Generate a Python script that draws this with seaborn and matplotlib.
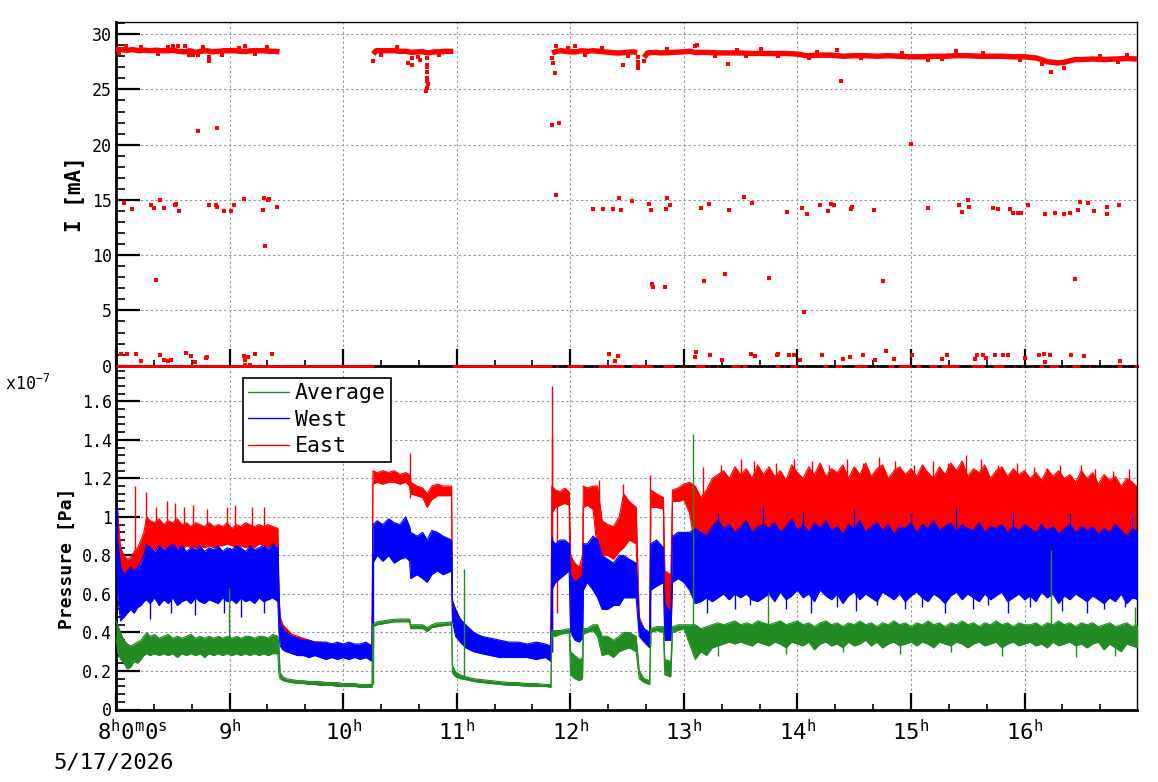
import numpy as np
import pandas as pd
import matplotlib
matplotlib.use("Agg")
import matplotlib.pyplot as plt
import matplotlib.ticker as mticker
from matplotlib.lines import Line2D
import seaborn as sns

# ---------------- data: beam current (top panel) ----------------
band_t = [8.00, 8.05, 8.10, 8.15, 8.20, 8.25, 8.30, 8.35, 8.40, 8.45, 8.50, 8.55, 8.60, 8.65, 8.70,
          8.75, 8.80, 8.85, 8.90, 8.95, 9.00, 9.05, 9.10, 9.15, 9.20, 9.25, 9.30, 9.35, 9.40, 9.44,
          10.265, 10.29, 10.35, 10.40, 10.45, 10.50, 10.55, 10.60, 10.65, 10.70, 10.75, 10.80, 10.85, 10.90, 10.97,
          11.84, 11.88, 11.92, 11.96, 12.00, 12.05, 12.10, 12.15, 12.20, 12.25, 12.30, 12.35, 12.40, 12.45, 12.50,
          12.55, 12.59,
          12.65, 12.68, 12.75, 12.80, 12.90, 13.00, 13.05, 13.10, 13.20, 13.30, 13.40, 13.50, 13.60, 13.70, 13.80,
          13.90, 14.00, 14.05, 14.10, 14.20, 14.30, 14.40, 14.50, 14.60, 14.70, 14.80, 14.90, 15.00, 15.10, 15.20,
          15.30, 15.40, 15.50, 15.60, 15.70, 15.80, 15.90, 16.00, 16.05, 16.10, 16.15, 16.20, 16.25, 16.30, 16.35,
          16.40, 16.45, 16.50, 16.60, 16.70, 16.80, 16.90, 16.99]
band_I = [28.6, 28.6, 28.55, 28.6, 28.5, 28.55, 28.5, 28.55, 28.5, 28.5, 28.55, 28.45, 28.4, 28.5, 28.35,
          28.45, 28.5, 28.4, 28.45, 28.5, 28.5, 28.5, 28.45, 28.45, 28.5, 28.5, 28.5, 28.45, 28.45, 28.4,
          28.2, 28.5, 28.5, 28.5, 28.5, 28.45, 28.45, 28.35, 28.4, 28.4, 28.3, 28.4, 28.4, 28.45, 28.45,
          28.3, 28.45, 28.5, 28.45, 28.4, 28.4, 28.5, 28.45, 28.5, 28.45, 28.4, 28.35, 28.3, 28.3, 28.35,
          28.4, 28.35,
          27.9, 28.3, 28.35, 28.3, 28.35, 28.4, 28.45, 28.35, 28.35, 28.3, 28.3, 28.3, 28.25, 28.25, 28.25,
          28.25, 28.2, 28.1, 28.05, 28.1, 28.1, 28.0, 28.05, 28.05, 28.0, 28.05, 28.0, 27.95, 27.95, 28.0,
          28.0, 28.05, 28.05, 28.0, 28.0, 28.0, 27.95, 27.95, 27.9, 27.85, 27.7, 27.5, 27.45, 27.4, 27.45,
          27.6, 27.7, 27.7, 27.75, 27.7, 27.75, 27.8, 27.75]
band_seg = [1] * 30 + [2] * 15 + [3] * 17 + [4] * 53

near_t = [8.09, 8.50, 8.55, 8.61, 8.82, 8.82, 8.68, 8.72, 9.14, 10.265, 10.573, 10.61, 10.61, 10.737,
          10.737, 10.737, 10.737, 10.735, 10.74, 10.745, 10.73, 10.735, 10.66, 10.68, 11.84, 11.845, 11.865,
          11.87, 12.04, 12.46, 12.60, 12.60, 12.60, 12.60, 12.65, 13.10, 13.12, 13.39, 13.68, 14.38, 14.35,
          15.40, 16.23, 16.35, 16.15, 16.90, 14.10, 15.15, 13.55,
          8.03, 8.22, 8.37, 8.46, 8.64, 8.77, 8.93, 9.08, 9.22, 9.33, 10.33, 10.47, 10.84, 11.98, 12.13,
          12.28, 12.51, 12.85, 13.27, 13.47, 13.83, 14.17, 14.56, 14.92, 15.27, 15.63, 15.96, 16.66, 16.82]
near_I = [28.95, 28.9, 28.95, 28.95, 27.9, 27.6, 28.1, 28.1, 28.9, 27.6, 27.4, 27.2, 27.8, 27.8,
          27.2, 27.0, 26.6, 26.0, 25.8, 25.5, 24.9, 25.15, 27.9, 27.7, 27.8, 27.4, 26.5,
          28.9, 28.9, 27.2, 27.9, 27.5, 27.2, 26.9, 27.6, 28.95, 29.05, 27.3, 28.7, 25.8, 28.55,
          28.5, 26.6, 26.9, 27.3, 28.1, 27.8, 27.7, 28.0,
          28.25, 28.85, 28.2, 28.8, 28.15, 28.8, 28.1, 28.75, 28.2, 28.8, 28.15, 28.8, 28.1, 28.75, 28.1,
          28.75, 28.05, 28.7, 28.05, 28.6, 28.0, 28.4, 27.8, 28.3, 27.75, 28.3, 27.7, 28.0, 27.5]

far_t = [8.073, 8.144, 8.31, 8.337, 8.39, 8.425, 8.52, 8.53, 8.557, 8.725, 8.89, 8.818, 8.877, 8.886,
         8.954, 9.015, 9.04, 9.13, 9.29, 9.305, 9.315, 9.34, 9.35, 9.42, 8.355,
         8.047, 8.10, 8.18, 8.223, 8.39, 8.425, 8.454, 8.487, 8.62, 8.664, 8.70, 8.795, 8.80, 9.13, 9.135,
         9.16, 9.14, 9.18, 9.22, 9.375,
         11.84, 11.90, 11.876, 12.20, 12.29, 12.38, 12.43, 12.45, 12.54, 12.69, 12.71, 12.72, 12.73, 12.83,
         12.85, 12.88, 12.84, 13.15, 13.18, 13.22, 13.36, 13.40, 13.53, 13.60, 13.75, 13.91, 14.04, 14.06,
         14.08, 14.20, 14.27, 14.30, 14.32, 14.47, 14.48, 14.67, 14.75, 15.00, 15.15, 15.42, 15.45, 15.50,
         15.51, 15.72, 15.77, 15.87, 15.90, 15.94, 15.97, 16.03, 16.18, 16.27, 16.35, 16.40, 16.44, 16.47,
         16.49, 16.56, 16.61, 16.73, 16.73, 16.83,
         12.34, 12.39, 12.42, 13.10, 13.11, 13.23, 13.34, 13.59, 13.63, 13.82, 13.83, 13.93, 13.97, 14.02,
         14.22, 14.40, 14.46, 14.58, 14.68, 14.78, 14.85, 15.01, 15.27, 15.32, 15.56, 15.58, 15.63, 15.66,
         15.74, 15.81, 15.85, 16.00, 16.13, 16.17, 16.22, 16.18, 16.41, 16.52, 16.84]
far_I = [14.76, 14.2, 14.58, 14.3, 15.03, 14.3, 14.5, 14.67, 14.04, 21.26, 21.53, 14.58, 14.58, 14.4,
         14.04, 14.04, 14.58, 15.12, 14.13, 15.2, 10.87, 15.03, 15.12, 14.4, 7.71,
         1.03, 1.03, 1.03, 0.4, 0.94, 0.49, 0.4, 0.49, 1.12, 0.85, 0.31, 0.67, 0.76, 0.85, 0.49,
         0.76, 0.1, 0.1, 1.03, 1.03,
         21.8, 22.0, 15.48, 14.2, 14.2, 14.2, 15.2, 14.1, 14.9, 14.67, 14.1, 7.35, 7.08, 7.08,
         15.2, 14.58, 14.2, 14.3, 7.7, 14.67, 8.34, 14.13, 15.3, 14.76, 7.98, 13.95, 14.3, 4.82,
         13.77, 14.5, 14.04, 14.67, 14.58, 14.2, 14.4, 14.1, 7.62, 20.1, 14.3, 14.5, 13.95, 15.03,
         14.4, 14.3, 14.2, 14.2, 13.86, 13.86, 13.86, 14.5, 13.77, 13.86, 13.77, 13.86, 7.8, 14.13,
         14.85, 14.76, 14.04, 14.4, 13.77, 14.58,
         1.1, 0.4, 0.85, 0.75, 1.2, 1.0, 0.48, 1.1, 0.85, 1.0, 1.1, 0.93, 1.0, 0.48,
         1.0, 0.57, 0.75, 1.0, 0.48, 1.3, 0.57, 1.0, 0.57, 1.0, 0.57, 1.0, 0.93, 0.66,
         1.0, 0.93, 0.93, 0.66, 1.0, 1.1, 1.0, 0.3, 1.0, 0.85, 0.4]

zero_start = [8.00, 10.96, 11.875, 11.975, 12.205, 12.24, 12.535, 12.82, 12.995, 13.095, 13.215, 13.295,
              13.415, 13.515, 13.805, 13.885, 13.935, 14.055, 14.225, 14.335, 14.495, 14.685, 14.795,
              14.885, 15.045, 15.155, 15.265, 15.525, 15.725, 15.905, 15.975, 16.065, 16.125, 16.215,
              16.345, 16.415, 16.565, 16.815, 16.965]
zero_end = [10.275, 11.84, 11.89, 12.11, 12.215, 12.47, 12.73, 12.91, 13.005, 13.19, 13.225, 13.305,
            13.49, 13.56, 13.85, 13.895, 14.0, 14.065, 14.27, 14.39, 14.61, 14.695, 14.85,
            15.0, 15.09, 15.23, 15.42, 15.64, 15.82, 15.915, 15.985, 16.075, 16.17, 16.29,
            16.355, 16.49, 16.575, 16.86, 16.99]

# ---------------- data: pressure (bottom panel, units of 1e-7 Pa) ----------------
t_p = [8.000, 8.015, 8.040, 8.070, 8.100, 8.130, 8.160, 8.190, 8.220, 8.245,
       8.270, 8.300, 8.340, 8.380, 8.420, 8.460, 8.500, 8.540, 8.580, 8.620,
       8.660, 8.700, 8.740, 8.780, 8.820, 8.860, 8.900, 8.940, 8.980, 9.020,
       9.060, 9.100, 9.140, 9.180, 9.220, 9.260, 9.300, 9.340, 9.380, 9.425,
       9.435, 9.445, 9.470, 9.500, 9.550, 9.600, 9.650, 9.700, 9.750, 9.800,
       9.850, 9.900, 9.950, 10.000, 10.050, 10.100, 10.150, 10.200, 10.255,
       10.262, 10.300, 10.350, 10.400, 10.450, 10.500, 10.550, 10.585,
       10.595, 10.650, 10.700, 10.740, 10.780, 10.830, 10.880, 10.955,
       10.962, 10.990, 11.030, 11.080, 11.150, 11.220, 11.300, 11.380, 11.460, 11.540, 11.620, 11.700, 11.780, 11.830,
       11.837, 11.870, 11.910, 11.950, 11.990, 12.003, 12.040, 12.080, 12.108, 12.115,
       12.150, 12.200, 12.240, 12.280, 12.330, 12.380, 12.430, 12.470, 12.520, 12.580,
       12.607, 12.650, 12.700, 12.708, 12.760, 12.820, 12.832, 12.885, 12.900, 12.950,
       13.000,
       13.05, 13.10, 13.15, 13.20, 13.25, 13.30, 13.35, 13.40, 13.45, 13.50,
       13.55, 13.60, 13.65, 13.70, 13.75, 13.80, 13.85, 13.90, 13.95, 14.00,
       14.05, 14.10, 14.15, 14.20, 14.25, 14.30, 14.35, 14.40, 14.45, 14.50,
       14.55, 14.60, 14.65, 14.70, 14.75, 14.80, 14.85, 14.90, 14.95, 15.00,
       15.05, 15.10, 15.15, 15.20, 15.25, 15.30, 15.35, 15.40, 15.45, 15.50,
       15.55, 15.60, 15.65, 15.70, 15.75, 15.80, 15.85, 15.90, 15.95, 16.00,
       16.05, 16.10, 16.15, 16.20, 16.25, 16.30, 16.35, 16.40, 16.45, 16.50,
       16.55, 16.60, 16.65, 16.70, 16.75, 16.80, 16.85, 16.90, 16.95, 17.00]

avg_lo = [.38, .30, .26, .24, .21, .22, .25, .24, .26, .28,
          .29, .28, .29, .28, .29, .28, .29, .27, .29, .28,
          .29, .28, .29, .27, .29, .28, .29, .28, .29, .28,
          .29, .28, .29, .28, .29, .28, .29, .28, .29, .29,
          .18, .16, .15, .145, .14, .135, .135, .13, .13, .125,
          .125, .125, .12, .12, .12, .12, .115, .115, .115,
          .43, .44, .445, .45, .455, .455, .456, .455,
          .42, .42, .42, .405, .425, .43, .435, .44,
          .19, .17, .16, .155, .145, .14, .135, .13, .125, .125, .12, .12, .12, .115,
          .38, .38, .39, .395, .40, .18, .16, .15, .16, .39,
          .40, .41, .38, .28, .29, .27, .30, .31, .32, .30,
          .16, .14, .13, .40, .41, .40, .18, .17, .40, .41,
          .42,
          .34, .26, .30, .28, .32, .33, .34, .35, .34, .35,
          .34, .33, .35, .34, .33, .35, .34, .32, .35, .34,
          .33, .35, .31, .34, .35, .33, .34, .32, .35, .33,
          .34, .36, .33, .35, .32, .34, .35, .33, .34, .35,
          .33, .35, .34, .32, .35, .34, .33, .35, .34, .32,
          .34, .35, .33, .34, .35, .32, .34, .35, .33, .34,
          .35, .33, .34, .32, .35, .33, .34, .35, .33, .34,
          .32, .34, .35, .31, .34, .32, .30, .34, .33, .32]
avg_hi = [.46, .44, .40, .36, .34, .33, .34, .35, .36, .38,
          .40, .38, .39, .37, .38, .39, .37, .38, .37, .38,
          .39, .37, .38, .37, .38, .37, .38, .37, .38, .37,
          .38, .37, .38, .38, .37, .38, .38, .37, .39, .38,
          .33, .19, .17, .16, .155, .15, .15, .145, .145, .145,
          .14, .14, .14, .135, .135, .135, .13, .13, .13,
          .445, .455, .46, .465, .468, .47, .47, .47,
          .44, .44, .44, .425, .44, .45, .45, .455,
          .23, .195, .18, .17, .16, .155, .15, .145, .14, .14, .135, .135, .13, .13,
          .41, .41, .41, .415, .42, .30, .28, .26, .27, .42,
          .42, .44, .44, .38, .38, .36, .38, .40, .40, .38,
          .20, .16, .15, .42, .43, .43, .26, .25, .43, .44,
          .44,
          .44, .44, .42, .43, .44, .45, .44, .45, .46, .44,
          .45, .44, .46, .45, .44, .45, .46, .44, .45, .46,
          .44, .45, .43, .45, .46, .44, .45, .43, .45, .44,
          .46, .44, .45, .43, .45, .44, .46, .44, .45, .43,
          .45, .44, .46, .44, .45, .43, .45, .44, .46, .44,
          .45, .43, .45, .44, .46, .44, .45, .43, .45, .44,
          .44, .45, .43, .45, .44, .46, .44, .45, .43, .45,
          .44, .45, .43, .44, .45, .43, .44, .45, .43, .44]

west_lo = [.80, .58, .46, .48, .50, .52, .50, .53, .54, .56,
           .57, .55, .58, .54, .57, .55, .58, .54, .56, .57,
           .55, .58, .56, .55, .57, .56, .55, .58, .56, .57,
           .55, .58, .56, .57, .55, .58, .56, .57, .58, .56,
           .40, .33, .31, .30, .29, .28, .28, .27, .28, .27,
           .26, .27, .26, .27, .26, .27, .26, .27, .25,
           .76, .80, .77, .80, .76, .78, .79, .77,
           .68, .70, .68, .66, .70, .72, .70, .72,
           .46, .38, .35, .32, .30, .29, .28, .27, .27, .27, .27, .26, .27, .25,
           .62, .66, .68, .70, .72, .40, .36, .35, .37, .62,
           .66, .62, .58, .52, .52, .54, .54, .58, .58, .58,
           .38, .35, .32, .62, .64, .66, .36, .36, .66, .68,
           .66,
           .62, .55, .56, .58, .56, .58, .60, .57, .60, .58,
           .60, .57, .56, .58, .60, .56, .61, .57, .59, .62,
           .58, .60, .56, .62, .59, .57, .60, .55, .59, .61,
           .57, .60, .58, .56, .61, .59, .57, .60, .56, .59,
           .61, .58, .56, .60, .58, .55, .59, .61, .57, .60,
           .58, .56, .60, .57, .59, .61, .56, .58, .60, .57,
           .59, .56, .61, .58, .60, .55, .59, .57, .60, .58,
           .56, .59, .57, .55, .58, .56, .60, .55, .58, .57]
west_hi = [.95, .88, .74, .70, .72, .74, .72, .74, .76, .80,
           .86, .84, .82, .85, .83, .84, .86, .83, .85, .82,
           .84, .83, .85, .82, .84, .83, .85, .82, .84, .83,
           .85, .84, .82, .85, .83, .84, .85, .83, .86, .84,
           .60, .45, .42, .40, .38, .37, .36, .36, .35, .35,
           .35, .34, .35, .34, .35, .34, .34, .35, .33,
           .96, .98, .96, .99, .97, .96, 1.00, .95,
           .92, .90, .92, .88, .93, .92, .90, .88,
           .56, .52, .47, .44, .40, .38, .37, .36, .35, .35, .34, .35, .34, .33,
           .88, .86, .88, .88, .86, .70, .66, .68, .70, .86,
           .86, .90, .88, .80, .78, .76, .80, .80, .78, .76,
           .46, .42, .40, .86, .88, .84, .55, .50, .90, .92,
           .92,
           .92, .94, .92, .90, .95, .98, .94, .96, .92, .95,
           .98, .92, .95, .96, .94, .97, .92, .95, .99, .93,
           .96, .92, .97, .94, .98, .93, .95, .91, .96, .94,
           .98, .92, .95, .97, .93, .96, .91, .95, .94, .97,
           .92, .96, .94, .98, .93, .95, .97, .92, .96, .94,
           .93, .97, .92, .95, .94, .96, .92, .95, .93, .96,
           .94, .92, .96, .93, .95, .91, .94, .96, .92, .95,
           .93, .95, .91, .94, .92, .96, .93, .90, .94, .92]

east_lo = [1.05, .82, .72, .70, .68, .70, .71, .74, .77, .80,
           .84, .84, .83, .85, .84, .83, .85, .84, .83, .85,
           .84, .84, .85, .84, .85, .84, .85, .85, .86, .85,
           .84, .85, .84, .85, .84, .86, .85, .84, .86, .85,
           .42, .38, .37, .35, .34, .33, .32, .31, .31, .30,
           .30, .29, .29, .29, .28, .29, .28, .28, .28,
           1.17, 1.18, 1.17, 1.18, 1.18, 1.17, 1.18, 1.16,
           1.12, 1.11, 1.10, 1.05, 1.09, 1.11, 1.11, 1.11,
           .50, .44, .40, .37, .35, .33, .32, .31, .30, .29, .29, .29, .29, .28,
           1.02, 1.05, 1.06, 1.07, 1.06, .42, .38, .36, .40, 1.05,
           1.06, 1.04, .82, .80, .80, .78, .82, .84, .88, .86,
           .40, .36, .33, 1.05, 1.05, 1.04, .36, .38, 1.08, 1.08,
           1.09,
           1.02, .84, .82, .84, .86, .84, .86, .88, .87, .86,
           .90, .86, .88, .87, .90, .85, .89, .86, .88, .90,
           .86, .89, .85, .88, .91, .86, .88, .84, .89, .87,
           .90, .85, .88, .86, .91, .87, .84, .89, .86, .90,
           .87, .85, .89, .86, .88, .84, .90, .87, .85, .89,
           .86, .88, .84, .87, .90, .85, .88, .86, .89, .85,
           .87, .84, .88, .86, .83, .87, .85, .88, .84, .86,
           .83, .87, .84, .80, .86, .82, .85, .81, .84, .86]
east_hi = [1.20, 1.02, .84, .80, .78, .79, .82, .84, .88, .92,
           1.00, .98, .97, .99, .96, .98, .97, .99, .96, .97,
           .95, .97, .96, .95, .97, .95, .96, .95, .97, .94,
           .96, .95, .97, .96, .95, .96, .95, .96, .95, .94,
           .62, .48, .44, .42, .39, .38, .37, .36, .35, .35,
           .34, .34, .33, .33, .33, .32, .33, .32, .32,
           1.24, 1.23, 1.24, 1.23, 1.24, 1.22, 1.23, 1.22,
           1.18, 1.16, 1.15, 1.12, 1.16, 1.17, 1.16, 1.16,
           .57, .52, .47, .43, .40, .37, .36, .35, .34, .33, .33, .33, .32, .32,
           1.16, 1.14, 1.13, 1.15, 1.13, .80, .76, .74, .80, 1.16,
           1.15, 1.16, 1.16, .98, .96, .95, 1.00, 1.12, 1.08, 1.05,
           .48, .42, .38, 1.14, 1.12, 1.10, .72, .70, 1.14, 1.15,
           1.17,
           1.18, 1.16, 1.10, 1.14, 1.20, 1.22, 1.24, 1.20, 1.26, 1.22,
           1.25, 1.20, 1.27, 1.22, 1.26, 1.21, 1.24, 1.19, 1.27, 1.23,
           1.20, 1.26, 1.22, 1.28, 1.21, 1.25, 1.23, 1.27, 1.20, 1.26,
           1.22, 1.28, 1.21, 1.25, 1.27, 1.20, 1.24, 1.26, 1.22, 1.25,
           1.21, 1.27, 1.23, 1.20, 1.26, 1.22, 1.28, 1.24, 1.29, 1.21,
           1.25, 1.23, 1.27, 1.20, 1.24, 1.26, 1.21, 1.25, 1.22, 1.24,
           1.20, 1.23, 1.19, 1.25, 1.21, 1.24, 1.20, 1.22, 1.18, 1.24,
           1.20, 1.23, 1.17, 1.22, 1.19, 1.21, 1.16, 1.20, 1.18, 1.15]

# isolated spikes (time, low end, high end)
east_spk_t = [8.000, 8.165, 8.262, 8.35, 8.45, 8.52, 8.60, 8.68, 8.80, 8.98, 9.05, 9.20, 9.30, 10.59,
              11.835, 11.838, 11.885, 12.255, 12.465, 12.705,
              13.17, 13.33, 13.50, 13.62, 13.81, 13.97, 14.13, 14.28, 14.44, 14.58, 14.72, 14.86, 15.03,
              15.19, 15.33, 15.48, 15.62, 15.77, 15.93, 16.08, 16.31, 16.50, 16.62, 16.78, 16.92]
east_spk_lo = [1.0, 0.74, 0.9, 0.9, 0.9, 0.9, 0.9, 0.9, 0.9, 0.9, 0.9, 0.9, 0.9, 1.1,
               0.30, 0.9, 0.50, 0.60, 0.85, 0.33,
               1.1, 1.1, 1.1, 1.1, 1.1, 1.1, 1.1, 1.1, 1.1, 1.1, 1.1, 1.1, 1.1,
               1.1, 1.1, 1.1, 1.1, 1.1, 1.1, 1.1, 1.1, 1.1, 1.1, 1.1, 1.1]
east_spk_hi = [1.23, 1.16, 1.13, 1.05, 1.08, 1.07, 1.05, 1.06, 1.04, 1.05, 1.06, 1.05, 1.05, 1.33,
               1.68, 1.41, 1.10, 1.19, 1.17, 1.22,
               1.26, 1.27, 1.30, 1.29, 1.28, 1.30, 1.29, 1.27, 1.30, 1.28, 1.31, 1.29, 1.27,
               1.29, 1.28, 1.32, 1.30, 1.27, 1.28, 1.26, 1.27, 1.27, 1.25, 1.24, 1.25]
west_spk_t = [8.005, 8.30, 8.48, 8.70, 8.95, 9.10, 9.30, 10.262, 11.837, 12.705,
              13.20, 13.45, 13.58, 13.90, 14.12, 14.35, 14.52, 14.70, 14.95, 15.10, 15.30, 15.55,
              15.68, 15.85, 16.05, 16.33, 16.55, 16.70, 16.88,
              13.30, 13.70, 14.05, 14.50, 15.00, 15.40, 15.90, 16.40, 16.95]
west_spk_lo = [0.80, 0.47, 0.50, 0.49, 0.50, 0.48, 0.50, 0.33, 0.30, 0.33,
               0.50, 0.52, 0.54, 0.52, 0.50, 0.53, 0.51, 0.54, 0.52, 0.53, 0.50, 0.52,
               0.54, 0.50, 0.53, 0.51, 0.50, 0.52, 0.53,
               0.85, 0.85, 0.85, 0.85, 0.85, 0.85, 0.85, 0.85, 0.85]
west_spk_hi = [1.05, 0.65, 0.65, 0.65, 0.65, 0.65, 0.65, 0.80, 0.90, 0.68,
               0.65, 0.65, 0.65, 0.65, 0.65, 0.65, 0.65, 0.65, 0.65, 0.65, 0.65, 0.65,
               0.65, 0.65, 0.65, 0.65, 0.65, 0.65, 0.65,
               1.02, 1.05, 1.03, 1.04, 1.02, 1.05, 1.03, 1.02, 1.00]
avg_spk_t = [8.995, 10.262, 11.06, 13.08, 13.74, 16.23, 16.97,
             13.30, 13.90, 14.40, 14.90, 15.35, 15.80, 16.45, 16.80]
avg_spk_lo = [0.36, 0.13, 0.16, 0.40, 0.40, 0.38, 0.38,
              0.28, 0.29, 0.30, 0.29, 0.30, 0.28, 0.27, 0.28]
avg_spk_hi = [0.63, 0.43, 0.73, 1.43, 0.61, 0.83, 0.53,
              0.38, 0.38, 0.38, 0.38, 0.38, 0.38, 0.38, 0.38]

series_names = ["Average", "West", "East"]
hour_ticks = [8, 9, 10, 11, 12, 13, 14, 15, 16]
date_label = "5/17/2026"

# ---------------- style ----------------
sns.set_theme(style="white", rc={"axes.edgecolor": "black", "text.color": "black",
                                 "xtick.color": "black", "ytick.color": "black",
                                 "axes.labelcolor": "black"})
plt.rcParams["font.family"] = ["DejaVu Sans Mono", "DejaVu Sans"]
plt.rcParams["mathtext.fontset"] = "custom"
plt.rcParams["mathtext.rm"] = "DejaVu Sans Mono"
plt.rcParams["mathtext.it"] = "DejaVu Sans Mono"
plt.rcParams["mathtext.bf"] = "DejaVu Sans Mono:bold"

RED, BLUE, GREEN = "#ff0000", "#0000ff", "#228b22"
GRID = dict(color="#9a9a9a", linestyle=(0, (2.2, 2.2)), linewidth=0.8)

W, H = 1158, 782
fig = plt.figure(figsize=(W / 100, H / 100), dpi=100)
L, R = 116, 1137
ax2 = fig.add_axes([L / W, 1 - 709.5 / H, (R - L) / W, (709.5 - 365.7) / H])
ax1 = fig.add_axes([L / W, 1 - 365.7 / H, (R - L) / W, (365.7 - 22) / H])
ax1.set_zorder(3)
ax2.set_zorder(1)

# ---------------- top panel ----------------
band = pd.DataFrame({"t": band_t, "I": band_I, "seg": band_seg})
sns.lineplot(data=band, x="t", y="I", units="seg", estimator=None, sort=False,
             color=RED, lw=3.9, ax=ax1, zorder=4, solid_capstyle="butt")
sns.scatterplot(x=near_t, y=near_I, marker="s", s=7, color=RED, linewidth=0, ax=ax1, zorder=4)
sns.scatterplot(x=far_t, y=far_I, marker="s", s=7, color=RED, linewidth=0, ax=ax1, zorder=4,
                clip_on=False)
ax1.hlines([0] * len(zero_start), zero_start, zero_end, color=RED, lw=2.0, zorder=5, clip_on=False)

ax1.set_xlim(8.0, 16.99)
ax1.set_ylim(0, 31.1)
ax1.yaxis.set_major_locator(mticker.MultipleLocator(5))
ax1.yaxis.set_minor_locator(mticker.MultipleLocator(1))
ax1.yaxis.set_major_formatter(mticker.FormatStrFormatter("%d"))
ax1.set_ylabel("I [mA]", fontsize=15, fontweight="bold")
ax1.yaxis.set_label_coords(-0.030, 0.5)

# ---------------- bottom panel ----------------
pres = pd.DataFrame({"t": t_p, "avg_lo": avg_lo, "avg_hi": avg_hi, "west_lo": west_lo,
                     "west_hi": west_hi, "east_lo": east_lo, "east_hi": east_hi})
spikes = {"east": (east_spk_t, east_spk_lo, east_spk_hi),
          "west": (west_spk_t, west_spk_lo, west_spk_hi),
          "avg": (avg_spk_t, avg_spk_lo, avg_spk_hi)}
for key, col, z in [("east", RED, 2), ("west", BLUE, 3), ("avg", GREEN, 4)]:
    ax2.fill_between(pres["t"], pres[key + "_lo"], pres[key + "_hi"], color=col, lw=0, zorder=z)
    for edge in ("_lo", "_hi"):
        sns.lineplot(data=pres, x="t", y=key + edge, estimator=None, sort=False,
                     color=col, lw=0.8, ax=ax2, zorder=z)
    st, slo, shi = spikes[key]
    ax2.vlines(st, slo, shi, color=col, lw=1.0, zorder=z)

ax2.set_xlim(8.0, 16.99)
ax2.set_ylim(0, 1.785)
ax2.yaxis.set_major_locator(mticker.MultipleLocator(0.2))
ax2.yaxis.set_minor_locator(mticker.MultipleLocator(0.04))
ax2.yaxis.set_major_formatter(mticker.FuncFormatter(lambda v, p: "%g" % round(v, 1)))
ax2.set_ylabel("Pressure [Pa]", fontsize=13, fontweight="bold")
ax2.yaxis.set_label_coords(-0.039, 0.44)

handles = [Line2D([], [], color=c, lw=1.0) for c in (GREEN, BLUE, RED)]
leg = ax2.legend(handles, series_names, loc="upper left",
                 bbox_to_anchor=(243 / W, 1 - 378 / H), bbox_transform=fig.transFigure,
                 fontsize=15.5, frameon=True, fancybox=False, framealpha=1, edgecolor="black",
                 borderaxespad=0, borderpad=0.25, handlelength=1.9, handletextpad=0.25,
                 labelspacing=0.3)
leg.get_frame().set_linewidth(1.2)
leg.set_zorder(10)

# ---------------- axes styling ----------------
for ax in (ax1, ax2):
    ax.set_xlabel("")
    ax.xaxis.set_major_locator(mticker.FixedLocator(hour_ticks))
    ax.xaxis.set_minor_locator(mticker.MultipleLocator(1 / 3))
    ax.grid(True, which="major", **GRID)
    ax.set_axisbelow(True)
    ax.tick_params(axis="y", which="major", direction="in", length=17, width=1.6, labelsize=12, pad=3,
                   left=True, right=False)
    ax.tick_params(axis="y", which="minor", direction="in", length=6.5, width=1.2, left=True, right=False)
    ax.tick_params(axis="x", which="major", direction="in", length=12, width=1.6, bottom=True, top=False)
    ax.tick_params(axis="x", which="minor", direction="in", length=4.3, width=1.2, bottom=True, top=False)
    for s in ("left", "bottom"):
        ax.spines[s].set_linewidth(2.0)
        ax.spines[s].set_color("black")
    for s in ("top", "right"):
        ax.spines[s].set_linewidth(1.0)
        ax.spines[s].set_color("black")
ax2.spines["top"].set_visible(False)
ax1.tick_params(axis="x", which="both", labelbottom=False)

ax2.xaxis.set_major_formatter(mticker.FuncFormatter(
    lambda v, p: "" if int(round(v)) == 8 else r"$\mathregular{%d^h}$" % int(round(v))))
ax2.tick_params(axis="x", which="major", labelsize=16, pad=7)
ax2.annotate(r"$\mathregular{8^h0^m0^s}$", xy=(8.0, 0), xycoords=("data", "axes fraction"),
             xytext=(11.5, -6.8), textcoords="offset points", ha="center", va="top", fontsize=16)

fig.text(53 / W, 1 - 768 / H, date_label, fontsize=16, ha="left", va="baseline")
fig.text(5 / W, 1 - 390 / H, r"x10$^{\mathregular{-7}}$", fontsize=12, ha="left", va="baseline")

fig.savefig("out.png", dpi=100)
